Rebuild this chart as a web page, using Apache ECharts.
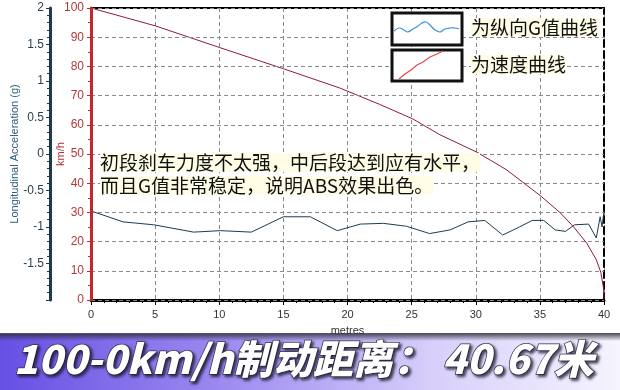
<!DOCTYPE html>
<html>
<head>
<meta charset="utf-8">
<script src="https://cdn.jsdelivr.net/npm/echarts@6/dist/echarts.min.js"></script>
<style>html,body{margin:0;padding:0;background:#fff;}#c{width:620px;height:390px;}</style>
</head>
<body>
<div id="c"></div>
<script>
// distance (m) and longitudinal acceleration (g)
var gDist = [0, 2.5, 4.9, 8.0, 10.1, 12.5, 15.0, 17.1, 19.2, 21.0, 22.8, 24.6, 26.4, 28.0, 29.4, 30.7, 32.1, 33.4, 34.4, 35.3, 36.2, 37.0, 37.7, 38.8, 39.4, 39.7, 39.85, 40.0];
var gVal  = [-0.78, -0.93, -0.97, -1.07, -1.05, -1.07, -0.86, -0.86, -1.05, -0.96, -0.95, -0.99, -1.09, -1.04, -0.93, -0.91, -1.11, -1.00, -0.91, -0.91, -1.04, -1.06, -0.97, -0.96, -1.15, -0.86, -1.0, -0.77];
// distance (m) and speed (km/h)
var sDist = [0, 5.0, 10.0, 15.0, 19.4, 22.5, 25.1, 27.2, 30.1, 32.4, 35.1, 36.6, 37.6, 38.65, 39.4, 39.75, 39.95, 40.0];
var sVal  = [100, 93.9, 86.5, 79.2, 72.6, 67.0, 62.0, 56.6, 50.6, 44.6, 35.5, 29.8, 25.2, 19.5, 13.8, 9.5, 4.5, 0.5];
var xTicks = [0, 5, 10, 15, 20, 25, 30, 35, 40];
var speedTicks = [0, 10, 20, 30, 40, 50, 60, 70, 80, 90, 100];
var gTicks = [-1.5, -1, -0.5, 0, 0.5, 1, 1.5, 2];
var noteLines = ['初段刹车力度不太强，中后段达到应有水平，', '而且G值非常稳定，说明ABS效果出色。'];
var legendTexts = ['为纵向G值曲线', '为速度曲线'];
var bannerText = '100-0km/h制动距离： 40.67米';

function zip(a, b) { return a.map(function (v, i) { return [v, b[i]]; }); }

var chart = echarts.init(document.getElementById('c'), null, {renderer: 'canvas'});
var latin = '"Liberation Sans", Arial, sans-serif';
var cjk = '"Noto Sans CJK SC", "Noto Sans", sans-serif';

chart.setOption({
  animation: false,
  backgroundColor: '#ffffff',
  grid: {left: 91, right: 16, top: 8, bottom: 90, containLabel: false, outerBoundsMode: 'none'},
  xAxis: [{
    type: 'value', min: 0, max: 40, interval: 5, position: 'bottom',
    name: 'metres', nameLocation: 'middle', nameGap: 25, nameMoveOverlap: false,
    nameTextStyle: {color: '#333', fontSize: 11, fontFamily: latin},
    axisLine: {show: true, lineStyle: {color: '#000', width: 3}},
    axisTick: {show: true, length: 5, lineStyle: {color: '#000'}},
    minorTick: {show: true, splitNumber: 5, length: 3, lineStyle: {color: '#000'}},
    axisLabel: {color: '#333', fontSize: 11, fontFamily: latin, margin: 9,
      formatter: function (v) { return xTicks.indexOf(v) >= 0 ? String(v) : ''; }},
    splitLine: {show: true, lineStyle: {color: '#8a8a8a', type: [4, 3], width: 1}}
  }, {
    type: 'value', min: 0, max: 40, position: 'top',
    axisLine: {show: true, onZero: false, lineStyle: {color: '#000', width: 2}},
    axisTick: {show: false}, axisLabel: {show: false}, splitLine: {show: false}
  }],
  yAxis: [{
    type: 'value', min: 0, max: 100, interval: 10, position: 'left', offset: 0,
    name: 'km/h', nameLocation: 'middle', nameGap: 25, nameRotate: 90, nameMoveOverlap: false,
    nameTextStyle: {color: '#b03030', fontSize: 11, fontFamily: latin},
    axisLine: {show: true, onZero: false, lineStyle: {color: '#c0282d', width: 3}},
    axisTick: {show: true, length: 4, lineStyle: {color: '#c0282d'}},
    minorTick: {show: true, splitNumber: 2, length: 3, lineStyle: {color: '#c0282d'}},
    axisLabel: {color: '#b03a3a', fontSize: 12, fontFamily: latin, margin: 7,
      formatter: function (v) { return speedTicks.indexOf(v) >= 0 ? String(v) : ''; }},
    splitLine: {show: true, lineStyle: {color: '#8a8a8a', type: [4, 3], width: 1}},
    z: 5
  }, {
    type: 'value', min: -2, max: 2, interval: 0.5, position: 'left', offset: 41,
    name: 'Longitudinal Acceleration (g)', nameLocation: 'middle', nameGap: 30, nameRotate: 90, nameMoveOverlap: false,
    nameTextStyle: {color: '#2b5f7d', fontSize: 11, fontFamily: latin},
    axisLine: {show: true, onZero: false, lineStyle: {color: '#1d3b4c', width: 3}},
    axisTick: {show: true, length: 4, lineStyle: {color: '#1d3b4c'}},
    minorTick: {show: true, splitNumber: 5, length: 3, lineStyle: {color: '#1d3b4c'}},
    axisLabel: {color: '#2a3f4f', fontSize: 12, fontFamily: latin, margin: 6, showMinLabel: false,
      formatter: function (v) { return gTicks.indexOf(v) >= 0 ? String(v) : ''; }},
    splitLine: {show: false}
  }, {
    type: 'value', min: 0, max: 100, position: 'right',
    axisLine: {show: true, onZero: false, lineStyle: {color: '#000', width: 2, type: [7, 4]}},
    axisTick: {show: false}, axisLabel: {show: false}, splitLine: {show: false}
  }],
  series: [{
    type: 'line', name: 'G', xAxisIndex: 0, yAxisIndex: 1,
    data: zip(gDist, gVal), showSymbol: false, symbol: 'none',
    lineStyle: {color: '#1e3c4c', width: 1}, z: 3
  }, {
    type: 'line', name: 'speed', xAxisIndex: 0, yAxisIndex: 0,
    data: zip(sDist, sVal), showSymbol: false, symbol: 'none',
    lineStyle: {color: '#8e1b3a', width: 1}, z: 3
  }],
  graphic: [
    // annotation text
    {type: 'text', left: 100, top: 153, z: 20, style: {text: noteLines[0], fill: '#111', font: '19px ' + cjk, backgroundColor: '#fffde6'}},
    {type: 'text', left: 100, top: 176, z: 20, style: {text: noteLines[1], fill: '#111', font: '19px ' + cjk, backgroundColor: '#fffde6'}},
    // legend boxes
    {type: 'rect', shape: {x: 392, y: 13, width: 70, height: 32}, style: {fill: '#fff', stroke: '#111', lineWidth: 3}, z: 20},
    {type: 'rect', shape: {x: 392, y: 50, width: 70, height: 31}, style: {fill: '#fff', stroke: '#111', lineWidth: 3}, z: 20},
    {type: 'polyline', shape: {points: [[394, 31], [399, 28], [404, 30], [408, 32], [413, 29], [418, 26], [422, 23], [426, 22], [430, 25], [435, 30], [440, 32], [445, 29], [450, 28], [455, 28], [459, 29]], smooth: 0.4}, style: {stroke: '#3d8fdb', lineWidth: 1.2, fill: null}, z: 21},
    {type: 'polyline', shape: {points: [[399, 79], [405, 74], [411, 70], [417, 65], [423, 62], [430, 57], [437, 54], [443, 51]]}, style: {stroke: '#e04848', lineWidth: 1.2, fill: null}, z: 21},
    {type: 'text', left: 471, top: 18, z: 20, style: {text: legendTexts[0], fill: '#111', font: '19px ' + cjk, backgroundColor: '#fffde6'}},
    {type: 'text', left: 471, top: 55, z: 20, style: {text: legendTexts[1], fill: '#111', font: '19px ' + cjk, backgroundColor: '#fffde6'}},
    // bottom banner
    {type: 'rect', shape: {x: 0, y: 334, width: 620, height: 56}, z: 30,
      style: {fill: new echarts.graphic.LinearGradient(0, 0, 1, 0, [
        {offset: 0, color: '#6650e4'}, {offset: 0.35, color: '#9c88f0'}, {offset: 0.7, color: '#d8cffa'}, {offset: 1, color: '#f6f4ff'}])}},
    {type: 'rect', shape: {x: 0, y: 333, width: 620, height: 8}, z: 31,
      style: {fill: new echarts.graphic.LinearGradient(0, 0, 0, 1, [
        {offset: 0, color: 'rgba(40,40,50,0.85)'}, {offset: 1, color: 'rgba(40,40,50,0)'}])}},
    {type: 'text', left: 13, top: 338, z: 32,
      style: {text: bannerText, fill: '#ffffff', font: 'italic 900 40px ' + cjk,
        stroke: '#3a3550', lineWidth: 1.5, textShadowColor: 'rgba(20,20,40,0.8)', textShadowBlur: 3, textShadowOffsetX: 2, textShadowOffsetY: 2}}
  ]
});
</script>
</body>
</html>
